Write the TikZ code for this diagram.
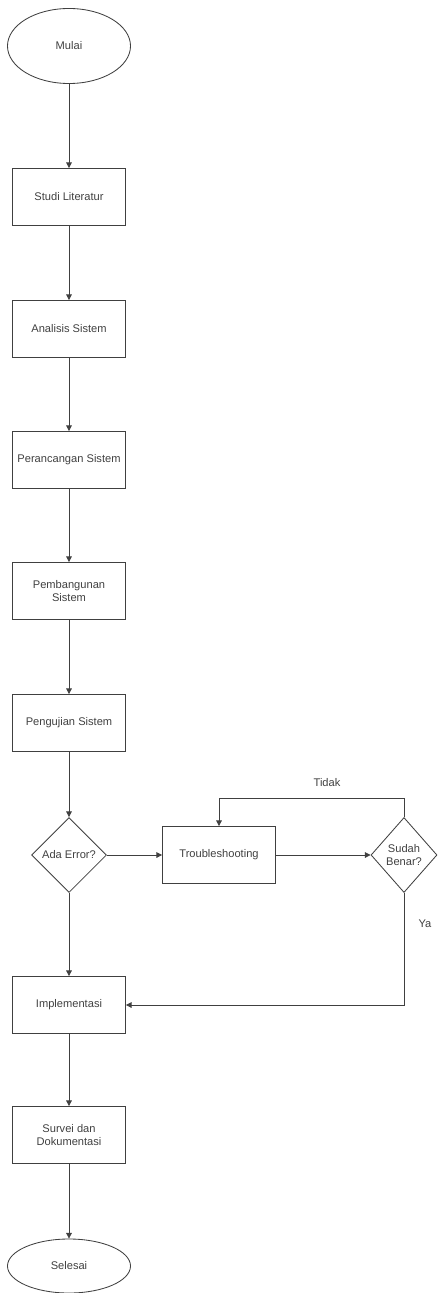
\documentclass[tikz,border=0pt]{standalone}
\usepackage{fontspec}
\setmainfont{Liberation Sans}
\usetikzlibrary{shapes.geometric,arrows.meta}

\def\boxw{2.825cm}
\def\boxh{1.425cm}

\begin{document}
\begin{tikzpicture}[x=0.025cm,y=-0.025cm,->,>={Triangle[length=4pt,width=4pt]},draw=black!75,line width=0.6pt,font=\fontsize{7.9}{9.5}\selectfont,text=black!75]
    \tikzstyle{proses}=[rectangle,draw,minimum width=\boxw,minimum height=\boxh,align=center,inner sep=1pt]
    \tikzstyle{terminal}=[ellipse,draw,minimum width=3.075cm,minimum height=1.875cm]
    \tikzstyle{keputusan}=[diamond,draw,minimum width=1.875cm,minimum height=1.875cm,inner sep=0pt,align=center]
    \tikzstyle{annot}=[text centered]

    \useasboundingbox (0,0) rectangle (437,1293);

    % Mulai
    \node[terminal] (M) at (69,46) {Mulai};

    % Draw the process boxes one under the other
    \foreach \name / \y / \txt in {1/197/{Studi Literatur},2/329/{Analisis Sistem},3/460/{Perancangan Sistem},4/591/{Pembangunan\\Sistem},5/723/{Pengujian Sistem}}
        \node[proses] (P-\name) at (69,\y) {\txt};

    % Decision and troubleshooting
    \node[keputusan] (D-1) at (69,855) {Ada Error?};
    \node[proses] (T) at (219,855) {Troubleshooting};
    \node[keputusan,minimum width=1.65cm] (D-2) at (404,855) {Sudah\\Benar?};

    % Last steps
    \node[proses] (I) at (69,1005) {Implementasi};
    \node[proses] (S) at (69,1135) {Survei dan\\Dokumentasi};
    \node[terminal,minimum height=1.35cm] (E) at (69,1266) {Selesai};

    % Connect the chain
    \path (M) edge (P-1);
    \foreach \source/\dest in {1/2,2/3,3/4,4/5}
        \path (P-\source) edge (P-\dest);
    \path (P-5) edge (D-1);
    \path (D-1) edge (I);
    \path (I) edge (S);
    \path (S) edge (E);

    % Loop through troubleshooting
    \path (D-1) edge (T);
    \path (T) edge (D-2);
    \coordinate (L) at (219,798);
    \draw (D-2.north) |- (L) -- (T.north);
    \draw (D-2.south) |- (I.east);

    % Annotate the branches
    \node[annot] (tidak) at (327,783) {Tidak};
    \node[annot] (ya) at (425,924) {Ya};
\end{tikzpicture}
\end{document}
